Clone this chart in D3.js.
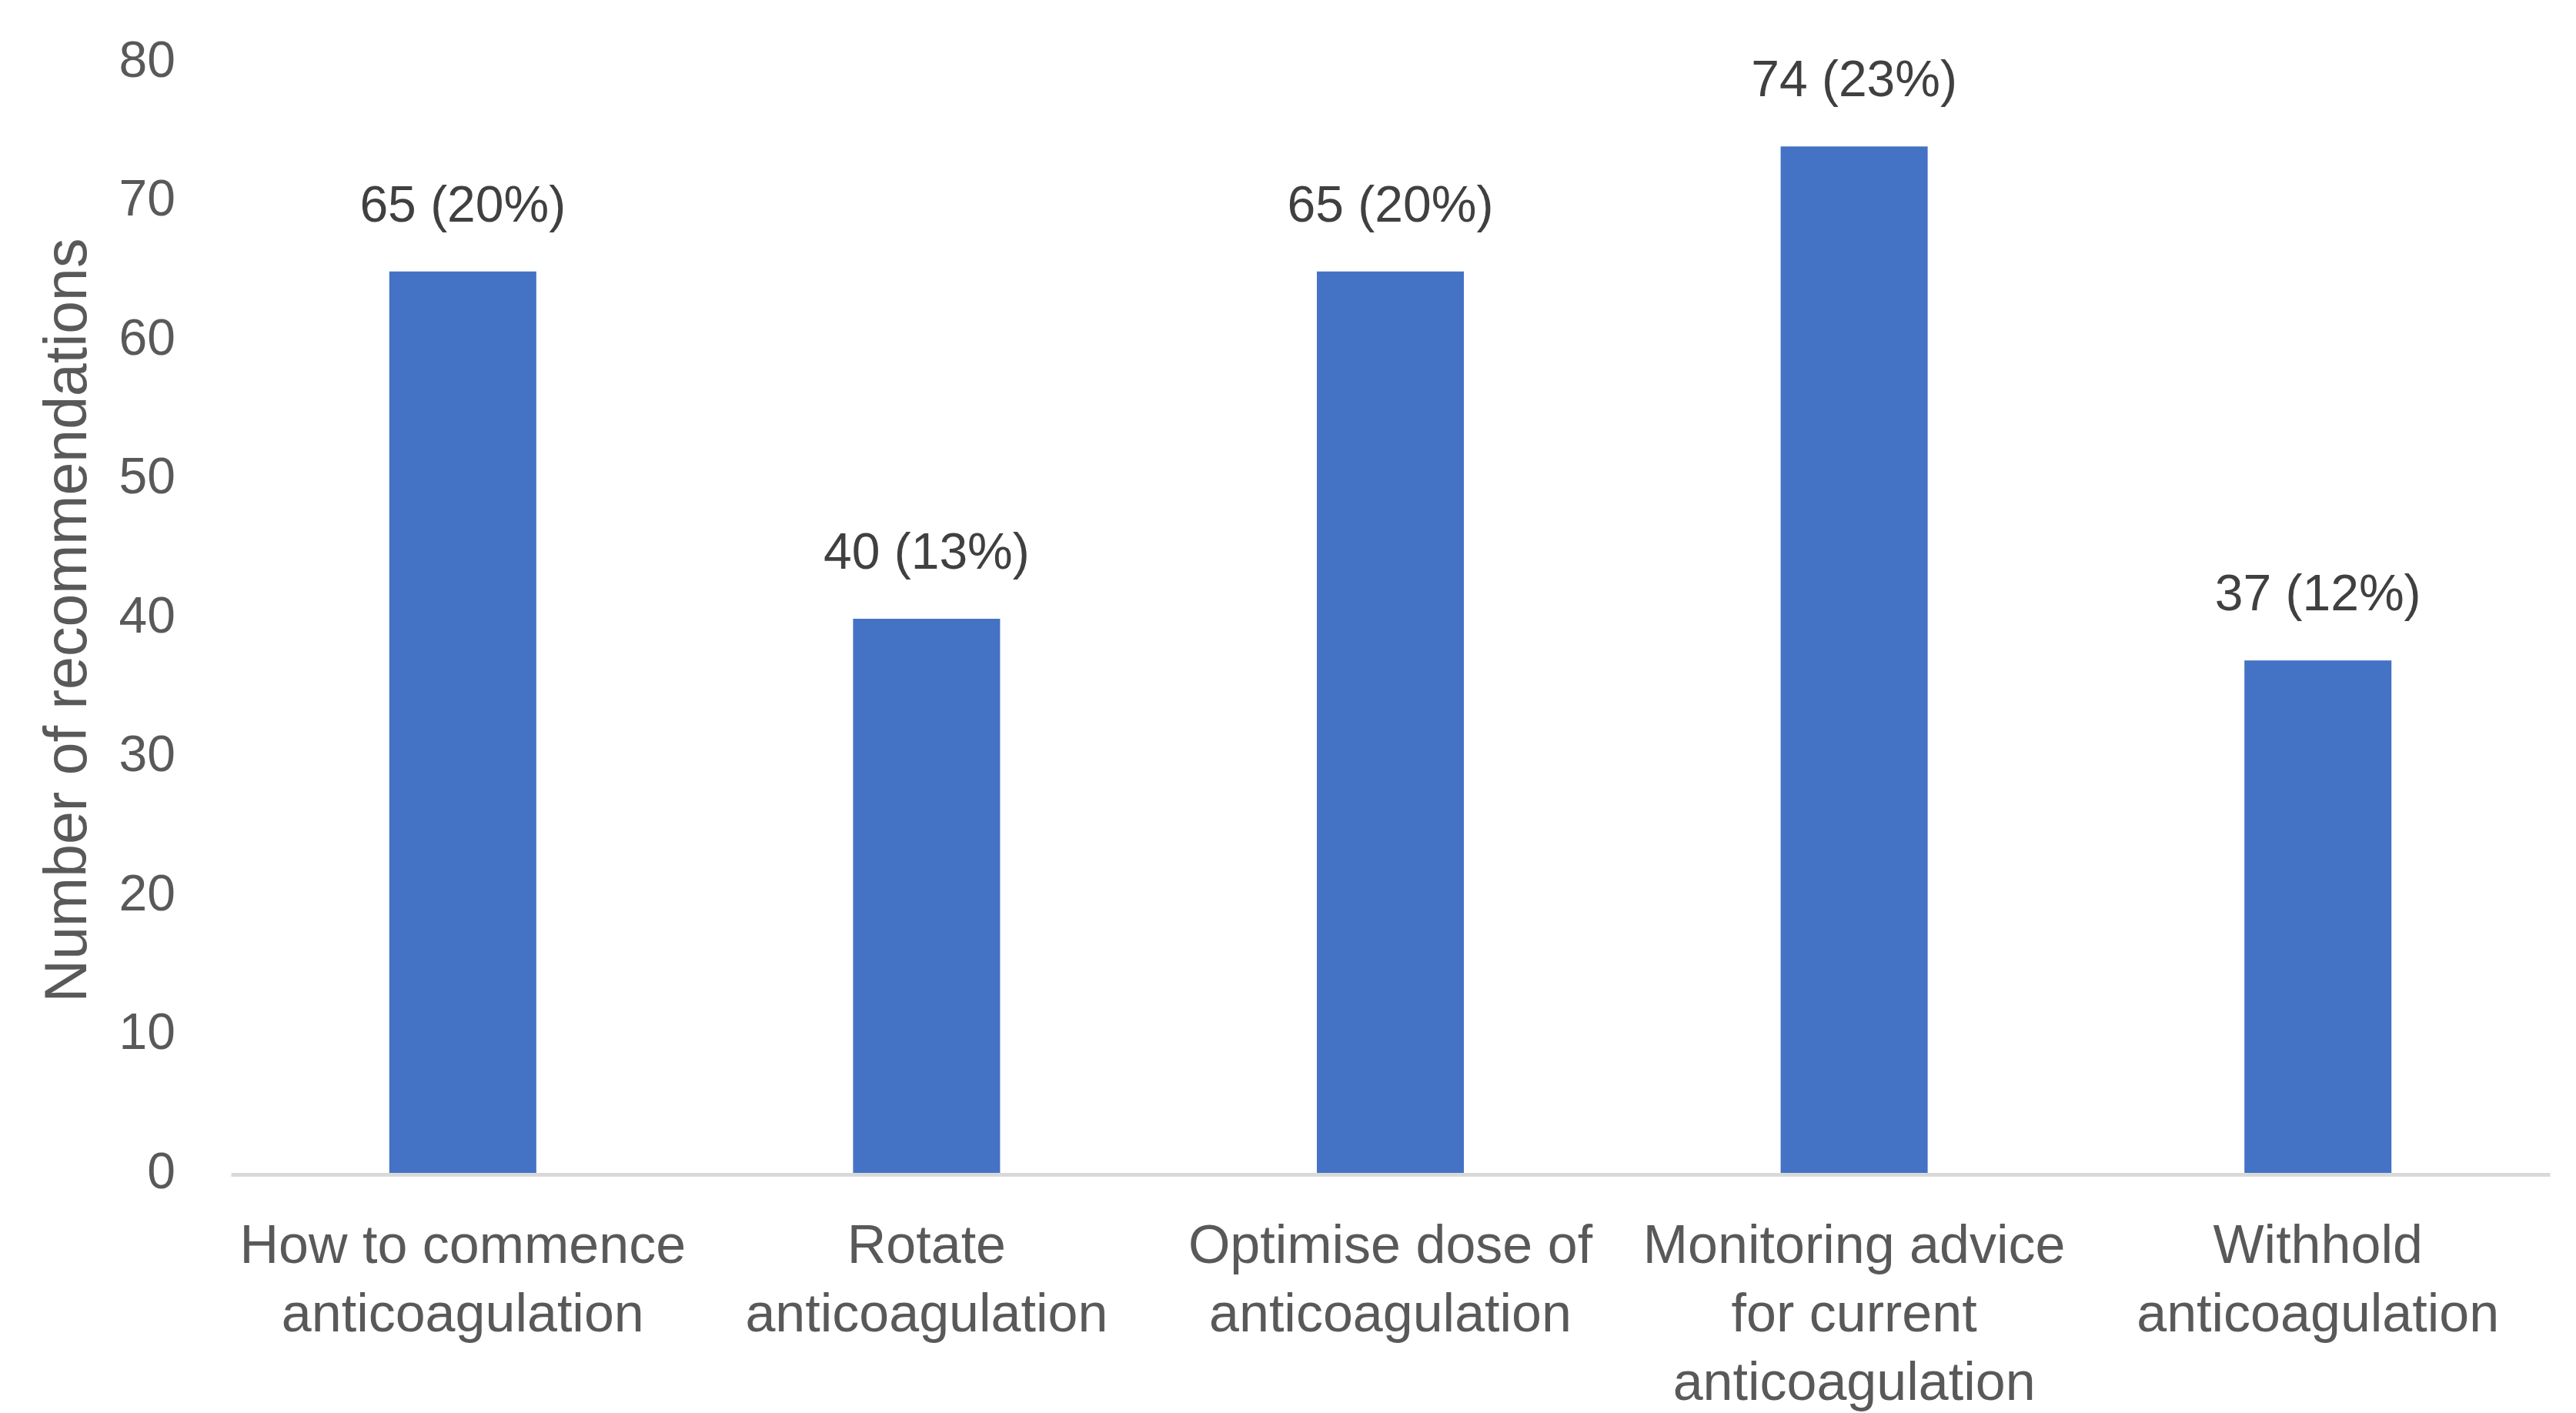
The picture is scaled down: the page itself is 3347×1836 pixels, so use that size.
<!DOCTYPE html>
<html>
<head>
<meta charset="utf-8">
<script src="https://cdn.jsdelivr.net/npm/d3@7"></script>
<style>
  html, body { margin: 0; padding: 0; background: #fff; }
  text { font-family: "Liberation Sans", Arial, sans-serif; }
</style>
</head>
<body>
<script>
(function() {
  const categories = [
    'How to commence anticoagulation',
    'Rotate anticoagulation',
    'Optimise dose of anticoagulation',
    'Monitoring advice for current anticoagulation',
    'Withhold anticoagulation'
  ];
  // how each category label is broken into lines
  const categoryLines = [
    ['How to commence', 'anticoagulation'],
    ['Rotate', 'anticoagulation'],
    ['Optimise dose of', 'anticoagulation'],
    ['Monitoring advice', 'for current', 'anticoagulation'],
    ['Withhold', 'anticoagulation']
  ];
  const counts = [65, 40, 65, 74, 37];
  const percents = [20, 13, 20, 23, 12];
  const yTicks = [0, 10, 20, 30, 40, 50, 60, 70, 80];
  const yTitle = 'Number of recommendations';

  const width = 3347;
  const height = 1836;
  const left = 300, right = 3313, top = 82, bottom = 1526;

  const svg = d3.select('body').append('svg')
    .attr('width', width).attr('height', height);

  const x = d3.scaleBand()
    .domain(categories)
    .range([left, right])
    .paddingInner(0.683)
    .paddingOuter(0.3415);

  const y = d3.scaleLinear()
    .domain([0, 80])
    .range([bottom, top]);

  // y axis labels only
  const yAxis = svg.append('g')
    .attr('transform', 'translate(' + 228 + ',0)')
    .call(d3.axisLeft(y).tickValues(yTicks).tickSize(0).tickPadding(0));
  yAxis.select('.domain').remove();
  yAxis.selectAll('text')
    .attr('font-size', 66)
    .attr('fill', '#595959')
    .attr('dy', '0.32em')
    .attr('y', -4)
    .style('font-family', '"Liberation Sans", Arial, sans-serif');

  // bars
  svg.append('g')
    .selectAll('rect')
    .data(counts)
    .enter()
    .append('rect')
    .attr('x', function(d, i) { return x(categories[i]); })
    .attr('y', function(d) { return y(d); })
    .attr('width', x.bandwidth())
    .attr('height', function(d) { return bottom - y(d); })
    .attr('fill', '#4472C4');

  // x axis with wrapped labels
  const xAxis = svg.append('g')
    .attr('transform', 'translate(0,' + bottom + ')')
    .call(d3.axisBottom(x).tickSize(0).tickSizeOuter(0).tickPadding(0));
  xAxis.select('.domain')
    .attr('stroke', '#d9d9d9')
    .attr('stroke-width', 5);
  xAxis.selectAll('.tick text').each(function(d, i) {
    const t = d3.select(this);
    t.text(null)
      .attr('y', 0)
      .attr('dy', null)
      .attr('font-size', 70)
      .attr('fill', '#595959')
      .style('font-family', '"Liberation Sans", Arial, sans-serif');
    categoryLines[i].forEach(function(line, k) {
      t.append('tspan')
        .attr('x', 0)
        .attr('y', 115 + k * 89)
        .text(line);
    });
  });

  // data labels
  svg.append('g')
    .selectAll('text')
    .data(counts)
    .enter()
    .append('text')
    .attr('x', function(d, i) { return x(categories[i]) + x.bandwidth() / 2; })
    .attr('y', function(d) { return y(d) - 65; })
    .attr('text-anchor', 'middle')
    .attr('font-size', 66)
    .attr('fill', '#404040')
    .text(function(d, i) { return d + ' (' + percents[i] + '%)'; });

  // y axis title
  svg.append('text')
    .attr('transform', 'translate(' + 112 + ',' + 806 + ') rotate(-90)')
    .attr('text-anchor', 'middle')
    .attr('font-size', 77)
    .attr('fill', '#595959')
    .text(yTitle);
})();
</script>
</body>
</html>
